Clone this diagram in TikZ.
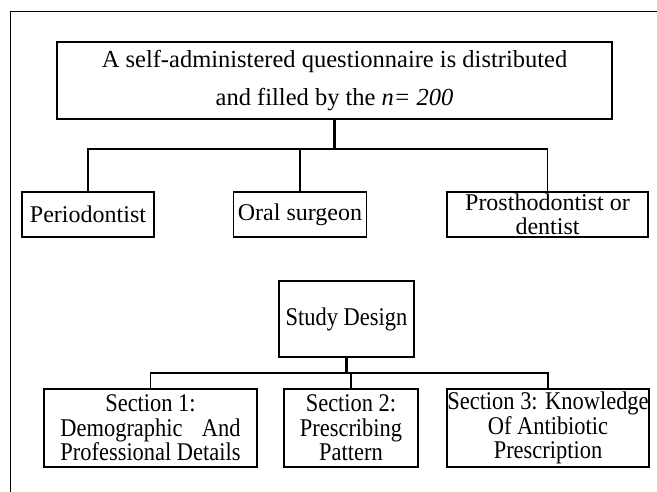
\documentclass[tikz,border=0pt]{standalone}
\usepackage{fontspec}
\setmainfont{Liberation Serif}
\newfontfamily\narrowserif[FakeStretch=0.88]{Liberation Serif}
\begin{document}
\begin{tikzpicture}[x=1pt,y=-1pt,
  box/.style={draw, line width=1.4pt, inner sep=0pt, align=center, minimum height=#1},
  toprow/.style={font=\fontsize{24}{24}\selectfont},
  botrow/.style={font=\narrowserif\fontsize{25.5}{24.5}\selectfont},
  bus/.style={line width=1.3pt},
  trunk/.style={line width=2.6pt}]
\useasboundingbox (0,0) rectangle (657,492);
% frame
\draw[line width=1pt] (10,492) -- (10,12) -- (657,12);
% top box
\node[box=77pt, minimum width=555pt, font=\fontsize{24.5}{38}\selectfont] (top) at (334.5,80.5)
  {A self-administered questionnaire is distributed\\and filled by the \textit{n= 200}};
\node[box=45pt, minimum width=132pt, toprow] (peri) at (88,214.5) {Periodontist};
\node[box=45pt, minimum width=133pt, toprow] (oral) at (300,214.5) {Oral surgeon};
\node[box=45pt, minimum width=201pt, toprow] (pros) at (547.5,214.5) {Prosthodontist or\\dentist};
\coordinate (bus1) at (334.5,149);
\draw[trunk] (top.south) -- (bus1);
\draw[bus] (peri.north) |- (bus1) -| (pros.north);
\draw[bus] (oral.north) -- (oral.north |- bus1);
% study design
\node[box=76pt, minimum width=135pt, botrow] (study) at (346.5,319) {Study Design};
\node[box=78pt, minimum width=213pt, botrow] (s1) at (150.5,428)
  {Section 1:\\{\setbox0\hbox{Professional Details}\makebox[\wd0][s]{Demographic\hfill And}}\\Professional Details};
\node[box=78pt, minimum width=134pt, botrow] (s2) at (351,428)
  {Section 2:\\Prescribing\\Pattern};
\node[box=78pt, minimum width=202pt, botrow] (s3) at (548,428)
  {Section 3: Knowledge\\Of Antibiotic\\Prescription};
\coordinate (bus2) at (346.5,373);
\draw[trunk] (study.south) -- (bus2);
\draw[bus] (s1.north) |- (bus2) -| (s3.north);
\draw[bus] (s2.north) -- (s2.north |- bus2);
\end{tikzpicture}
\end{document}
